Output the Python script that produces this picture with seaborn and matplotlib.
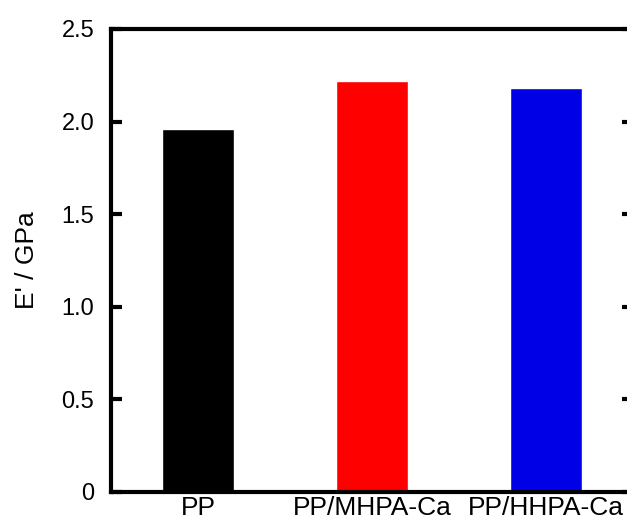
import matplotlib
matplotlib.use("Agg")
import matplotlib.pyplot as plt
import seaborn as sns
import pandas as pd

categories = ["PP", "PP/MHPA-Ca", "PP/HHPA-Ca"]
values = [1.96, 2.22, 2.18]
colors = ["#000000", "#ff0000", "#0000e6"]
yticks = [0, 0.5, 1.0, 1.5, 2.0, 2.5]
ytick_labels = ["0", "0.5", "1.0", "1.5", "2.0", "2.5"]

sns.set_style("white")
plt.rcParams["font.family"] = ["Liberation Sans", "DejaVu Sans"]
plt.rcParams["text.color"] = "black"
plt.rcParams["axes.labelcolor"] = "black"

df = pd.DataFrame({"cat": categories, "val": values})

fig = plt.figure(figsize=(6.27, 5.22), dpi=100)
ax = fig.add_axes([111 / 627, 30 / 522, 522 / 627, 463 / 522])
sns.barplot(data=df, x="cat", y="val", hue="cat", palette=colors,
            width=0.41, legend=False, ax=ax, saturation=1)

ax.set_xlim(-0.5, 2.5)
ax.set_ylim(0, 2.5)
ax.set_yticks(yticks)
ax.set_yticklabels(ytick_labels, fontsize=17)
ax.set_xticks(range(len(categories)))
ax.set_xticklabels(categories, fontsize=19)
ax.set_xlabel("")
ax.set_ylabel("E' / GPa", fontsize=19, labelpad=16, color="black")

for s in ax.spines.values():
    s.set_visible(True)
    s.set_linewidth(3)
    s.set_color("black")

ax.tick_params(axis="y", direction="in", length=8, width=3, left=True,
               right=True, pad=12, colors="black", labelcolor="black")
ax.tick_params(axis="x", length=0, pad=3, labelcolor="black")

fig.savefig("out.png", dpi=100)
